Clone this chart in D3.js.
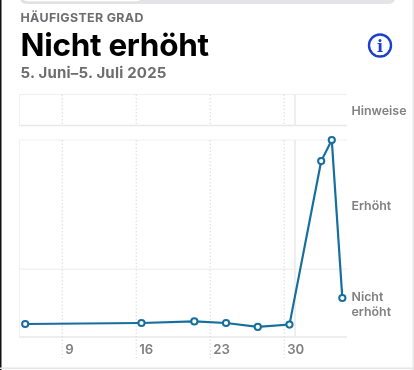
<!DOCTYPE html>
<html><head><meta charset="utf-8">
<script src="https://cdn.jsdelivr.net/npm/d3@7"></script>
<style>html,body{margin:0;padding:0;background:#fff;overflow:hidden}svg{display:block;filter:blur(0.35px)}text{font-family:Inter,"Liberation Sans",sans-serif}</style>
</head><body><svg id="c" width="414" height="370"></svg>
<script>
const days = [5.5, 16.5, 21.5, 24.5, 27.5, 30.5, 33.5, 34.5, 35.5];
const levels = [6.6, 7.1, 7.9, 7.1, 5.1, 6.3, 89.3, 100, 19.8];
const dayTicks = [9, 16, 23, 30];
const gridDays = [9, 16, 23, 30];
const levelBreaks = [0, 34.5, 100];
const levelLabels = [["Erhöht"], ["Nicht", "erhöht"]];
const titleSmall = "HÄUFIGSTER GRAD";
const titleBig = "Nicht erhöht";
const subtitle = "5. Juni–5. Juli 2025";

const svg = d3.select("#c");
const x = d3.scaleLinear().domain([9, 30]).range([62.2, 284.2]);
const y = d3.scaleLinear().domain([0, 100]).range([337, 140]);
const L = 19.5, R = 347;

// window chrome
svg.append("rect").attr("x",0).attr("y",0).attr("width",1.5).attr("height",370).attr("fill","#111");
svg.append("rect").attr("x",20).attr("y",-8).attr("width",375).attr("height",12).attr("rx",6).attr("fill","#e4e4e6");
svg.append("rect").attr("x",22).attr("y",-8).attr("width",120).attr("height",10).attr("rx",5).attr("fill","#fff").attr("stroke","#d8d8d8");
svg.append("rect").attr("x",0).attr("y",367.5).attr("width",414).attr("height",1.5).attr("fill","#e6e6e6");
svg.append("rect").attr("x",412.5).attr("y",0).attr("width",1.5).attr("height",370).attr("fill","#e6e6e6");

// text
svg.append("text").attr("x",20.5).attr("y",21.5).attr("font-size",12.4).attr("font-weight",700).attr("fill","#6d6d70").attr("letter-spacing",0.35).text(titleSmall);
svg.append("text").attr("x",20.5).attr("y",56).attr("font-size",31.5).attr("font-weight",700).attr("fill","#000").attr("letter-spacing",-0.3).text(titleBig);
svg.append("text").attr("x",20.5).attr("y",77.5).attr("font-size",15).attr("font-weight",700).attr("fill","#6d6d70").attr("letter-spacing",0.2).text(subtitle);

// info icon
const info = svg.append("g").attr("transform","translate(380,45.5)");
info.append("circle").attr("r",11).attr("fill","none").attr("stroke","#1c3fd0").attr("stroke-width",2.4);
info.append("text").attr("text-anchor","middle").attr("y",6).attr("font-size",16).attr("font-weight",700).attr("fill","#1c3fd0").style("font-family","'DejaVu Serif',serif").text("i");

// grid
const g = svg.append("g").attr("stroke","#efefef").attr("fill","none");
[[94.5,125.5],[140,337]].forEach(([a,b])=>{
  g.append("path").attr("d",`M${R} ${a}H${L}V${b}`).attr("stroke-width",1);
  g.append("line").attr("x1",L).attr("x2",R).attr("y1",b).attr("y2",b).attr("stroke-width",1.5).attr("stroke","#e8e8e8");
});
g.append("line").attr("x1",L).attr("x2",R).attr("y1",y(levelBreaks[1])).attr("y2",y(levelBreaks[1])).attr("stroke-width",1.2);
g.append("line").attr("x1",295).attr("x2",295).attr("y1",94.5).attr("y2",125.5).attr("stroke-width",1.5).attr("stroke","#e8e8e8");
g.append("line").attr("x1",295).attr("x2",295).attr("y1",140).attr("y2",337).attr("stroke-width",1.5).attr("stroke","#e8e8e8");
gridDays.forEach(d=>{
  [[94.5,125.5],[140,358]].forEach(([a,b])=>{
    svg.append("line").attr("x1",x(d)).attr("x2",x(d)).attr("y1",a).attr("y2",b)
      .attr("stroke","#d8d8d8").attr("stroke-dasharray","1.5 2");
  });
});

// axis labels
svg.selectAll(".dt").data(dayTicks).join("text").attr("class","dt")
  .attr("x",d=>x(d)+3).attr("y",353.5).attr("font-size",13.2).attr("font-weight",600).attr("fill","#808083").text(d=>d);
const lab = (t,yy)=>svg.append("text").attr("x",351.5).attr("y",yy).attr("font-size",12.4).attr("font-weight",600).attr("fill","#808083").text(t);
lab("Hinweise",114.5);
lab(levelLabels[0][0],210);
lab(levelLabels[1][0],300.5);
lab(levelLabels[1][1],316);

// line
const pts = days.map((d,i)=>[d,levels[i]]);
svg.append("path").attr("d",d3.line().x(d=>x(d[0])).y(d=>y(d[1]))(pts))
  .attr("fill","none").attr("stroke","#156e9e").attr("stroke-width",2.2);
svg.selectAll(".pt").data(pts).join("circle").attr("class","pt")
  .attr("cx",d=>x(d[0])).attr("cy",d=>y(d[1])).attr("r",3.1)
  .attr("fill","#fff").attr("stroke","#156e9e").attr("stroke-width",2);
</script></body></html>
